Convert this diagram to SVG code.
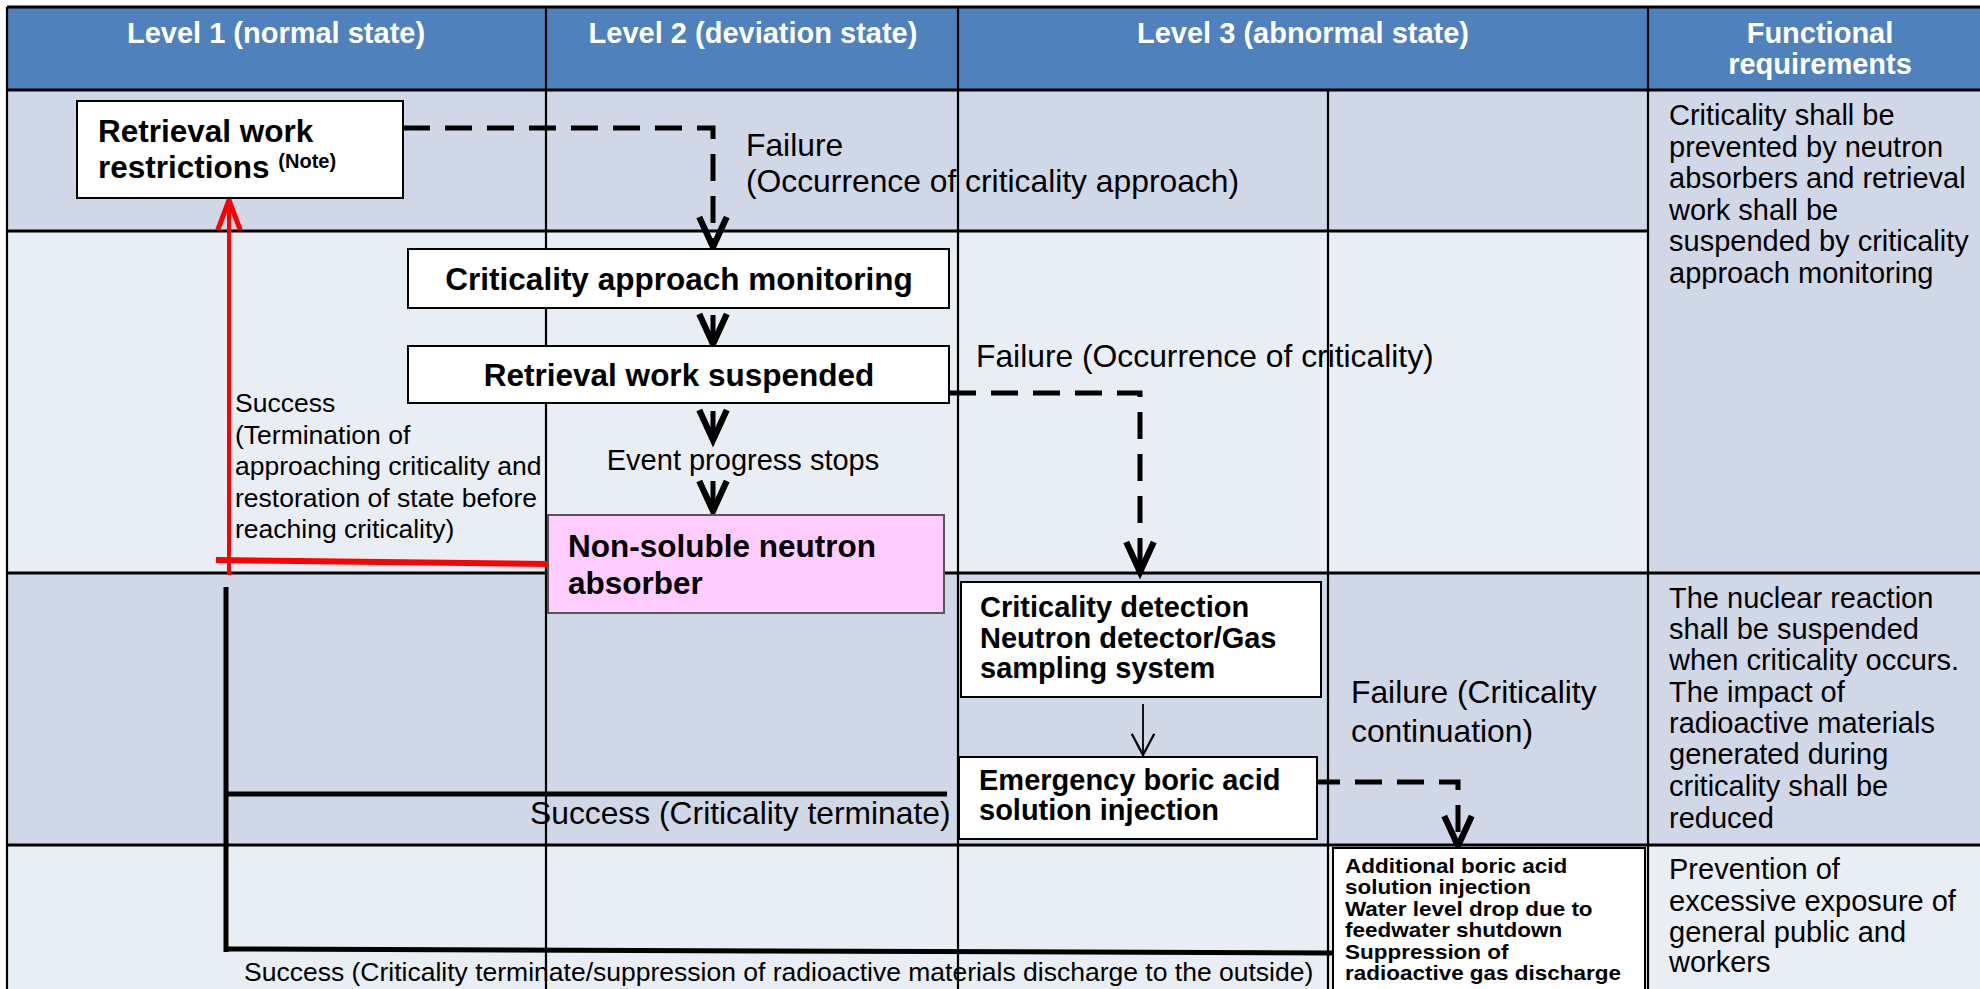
<svg xmlns="http://www.w3.org/2000/svg" width="1980" height="989" viewBox="0 0 1980 989">
  <style>
    text { font-family: "Liberation Sans", Arial, sans-serif; fill: #000; }
    .hdr { font-size: 29px; font-weight: bold; fill: #fff; text-anchor: middle; }
    .box { fill: #fff; stroke: #000; stroke-width: 2; }
    .pink { fill: #FFCCFF; stroke: #555; stroke-width: 2; }
    .bt { font-weight: bold; font-size: 31.5px; }
    .bt29 { font-weight: bold; font-size: 29px; }
    .bt22 { font-weight: bold; font-size: 19.3px; }
    .req { font-size: 29px; }
    .lbl { font-size: 31.8px; }
    .ok { font-size: 26.5px; }
    .grid { stroke: #000; fill: none; }
    .dash { stroke: #000; stroke-width: 5; fill: none; stroke-dasharray: 27 15; }
    .solid { stroke: #000; stroke-width: 5; fill: none; }
    .red { stroke: #FF0000; fill: none; }
  </style>
  <defs>
    <marker id="vhead" markerUnits="userSpaceOnUse" orient="auto" refX="0" refY="0" markerWidth="40" markerHeight="40" viewBox="-30 -15 32 30" overflow="visible">
      <path d="M -24 -11 L 0 0 L -24 11" fill="none" stroke="#000" stroke-width="5" stroke-linejoin="miter"/>
    </marker>
    <marker id="vhead-red" markerUnits="userSpaceOnUse" orient="auto" refX="0" refY="0" markerWidth="40" markerHeight="40" viewBox="-30 -15 32 30" overflow="visible">
      <path d="M -24 -9 L 0 0 L -24 9" fill="none" stroke="#FF0000" stroke-width="4"/>
    </marker>
    <marker id="thin" markerUnits="userSpaceOnUse" orient="auto" refX="0" refY="0" markerWidth="30" markerHeight="30" viewBox="-20 -12 22 24" overflow="visible">
      <path d="M -17 -9 L 0 0 L -17 9" fill="none" stroke="#000" stroke-width="1.8"/>
    </marker>
  </defs>

  <rect width="1980" height="989" fill="#fff"/>

  <!-- table body -->
  <g id="table">
    <rect x="7" y="7" width="1973" height="83" fill="#4F81BD"/>
    <rect x="7" y="90" width="1641" height="141" fill="#D0D8E8"/>
    <rect x="1648" y="90" width="332" height="483" fill="#D0D8E8"/>
    <rect x="7" y="231" width="1641" height="342" fill="#E9EDF4"/>
    <rect x="7" y="573" width="1973" height="272" fill="#D0D8E8"/>
    <rect x="7" y="845" width="1973" height="144" fill="#E9EDF4"/>
    <g class="grid" stroke-width="3">
      <path d="M7 7 H1980 M7 90 H1980 M7 231 H1648 M7 573 H1980 M7 845 H1980"/>
    </g>
    <g class="grid" stroke-width="2.2">
      <path d="M7 7 V989 M546 7 V989 M958 7 V989 M1328 90 V989 M1648 7 V989"/>
    </g>
    <text class="hdr" x="276" y="43">Level 1 (normal state)</text>
    <text class="hdr" x="753" y="43">Level 2 (deviation state)</text>
    <text class="hdr" x="1303" y="43">Level 3 (abnormal state)</text>
    <text class="hdr" x="1820" y="43">Functional</text>
    <text class="hdr" x="1820" y="74">requirements</text>
  </g>

  <!-- functional requirement notes -->
  <g id="requirements">
    <text class="req" x="1669" y="125">Criticality shall be</text>
    <text class="req" x="1669" y="156.5">prevented by neutron</text>
    <text class="req" x="1669" y="188">absorbers and retrieval</text>
    <text class="req" x="1669" y="219.5">work shall be</text>
    <text class="req" x="1669" y="251">suspended by criticality</text>
    <text class="req" x="1669" y="282.5">approach monitoring</text>

    <text class="req" x="1669" y="608">The nuclear reaction</text>
    <text class="req" x="1669" y="639">shall be suspended</text>
    <text class="req" x="1669" y="670">when criticality occurs.</text>
    <text class="req" x="1669" y="702">The impact of</text>
    <text class="req" x="1669" y="733">radioactive materials</text>
    <text class="req" x="1669" y="764">generated during</text>
    <text class="req" x="1669" y="796">criticality shall be</text>
    <text class="req" x="1669" y="828">reduced</text>

    <text class="req" x="1669" y="879">Prevention of</text>
    <text class="req" x="1669" y="911">excessive exposure of</text>
    <text class="req" x="1669" y="942">general public and</text>
    <text class="req" x="1669" y="972">workers</text>
  </g>

  <!-- edge labels -->
  <g id="labels">
    <text class="lbl" x="746" y="156">Failure</text>
    <text class="lbl" x="746" y="192">(Occurrence of criticality approach)</text>
    <text class="lbl" x="976" y="367">Failure (Occurrence of criticality)</text>
    <text class="req" x="743" y="470" text-anchor="middle">Event progress stops</text>
    <text class="ok" x="235" y="412">Success</text>
    <text class="ok" x="235" y="444">(Termination of</text>
    <text class="ok" x="235" y="475">approaching criticality and</text>
    <text class="ok" x="235" y="507">restoration of state before</text>
    <text class="ok" x="235" y="538">reaching criticality)</text>
    <text class="lbl" x="1351" y="703">Failure (Criticality</text>
    <text class="lbl" x="1351" y="742">continuation)</text>
    <text class="lbl" x="530" y="824">Success (Criticality terminate)</text>
    <text class="ok" x="244" y="981">Success (Criticality terminate/suppression of radioactive materials discharge to the outside)</text>
  </g>

  <!-- connectors -->
  <g id="connectors">
    <path class="dash" d="M403 128 H713 V247" marker-end="url(#vhead)"/>
    <path class="solid" d="M713 315 V344" marker-end="url(#vhead)"/>
    <path class="solid" d="M713 411 V440" marker-end="url(#vhead)"/>
    <path class="solid" d="M713 481 V511" marker-end="url(#vhead)"/>
    <path class="dash" d="M949 393 H1140 V572" marker-end="url(#vhead)"/>
    <path d="M1143 704 V755" stroke="#000" stroke-width="1.8" fill="none" marker-end="url(#thin)"/>
    <path class="dash" d="M1313 782 H1458 V846" marker-end="url(#vhead)"/>
    <path class="red" stroke-width="4" d="M229 575 V200" marker-end="url(#vhead-red)"/>
    <path class="red" stroke-width="6" d="M216 560 L548 564"/>
    <path class="solid" d="M226 587 V952"/>
    <path class="solid" stroke-width="6" d="M226 794 H947"/>
    <path class="solid" stroke-width="6" d="M226 949 L1333 953"/>
  </g>

  <!-- nodes -->
  <g id="node-restrictions">
    <rect class="box" x="77" y="101" width="326" height="97"/>
    <text class="bt" x="98" y="142">Retrieval work</text>
    <text class="bt" x="98" y="178">restrictions <tspan font-size="20" dy="-10">(Note)</tspan></text>
  </g>
  <g id="node-monitoring">
    <rect class="box" x="408" y="249" width="541" height="59"/>
    <text class="bt" x="679" y="290" text-anchor="middle">Criticality approach monitoring</text>
  </g>
  <g id="node-suspended">
    <rect class="box" x="408" y="346" width="541" height="57"/>
    <text class="bt" x="679" y="386" text-anchor="middle">Retrieval work suspended</text>
  </g>
  <g id="node-absorber">
    <rect class="pink" x="548" y="515" width="396" height="98"/>
    <text class="bt" x="568" y="557">Non-soluble neutron</text>
    <text class="bt" x="568" y="594">absorber</text>
  </g>
  <g id="node-detection">
    <rect class="box" x="961" y="582" width="360" height="115"/>
    <text class="bt29" x="980" y="617">Criticality detection</text>
    <text class="bt29" x="980" y="648">Neutron detector/Gas</text>
    <text class="bt29" x="980" y="678">sampling system</text>
  </g>
  <g id="node-injection">
    <rect class="box" x="959" y="757" width="358" height="82"/>
    <text class="bt29" x="979" y="790">Emergency boric acid</text>
    <text class="bt29" x="979" y="820">solution injection</text>
  </g>
  <g id="node-additional">
    <rect class="box" x="1333" y="848" width="312" height="150"/>
    <g transform="translate(1345 0) scale(1.165 1) translate(-1345 0)">
      <text class="bt22" x="1345" y="873">Additional boric acid</text>
      <text class="bt22" x="1345" y="894.5">solution injection</text>
      <text class="bt22" x="1345" y="916">Water level drop due to</text>
      <text class="bt22" x="1345" y="937.5">feedwater shutdown</text>
      <text class="bt22" x="1345" y="959">Suppression of</text>
      <text class="bt22" x="1345" y="980.5">radioactive gas discharge</text>
    </g>
  </g>
</svg>
